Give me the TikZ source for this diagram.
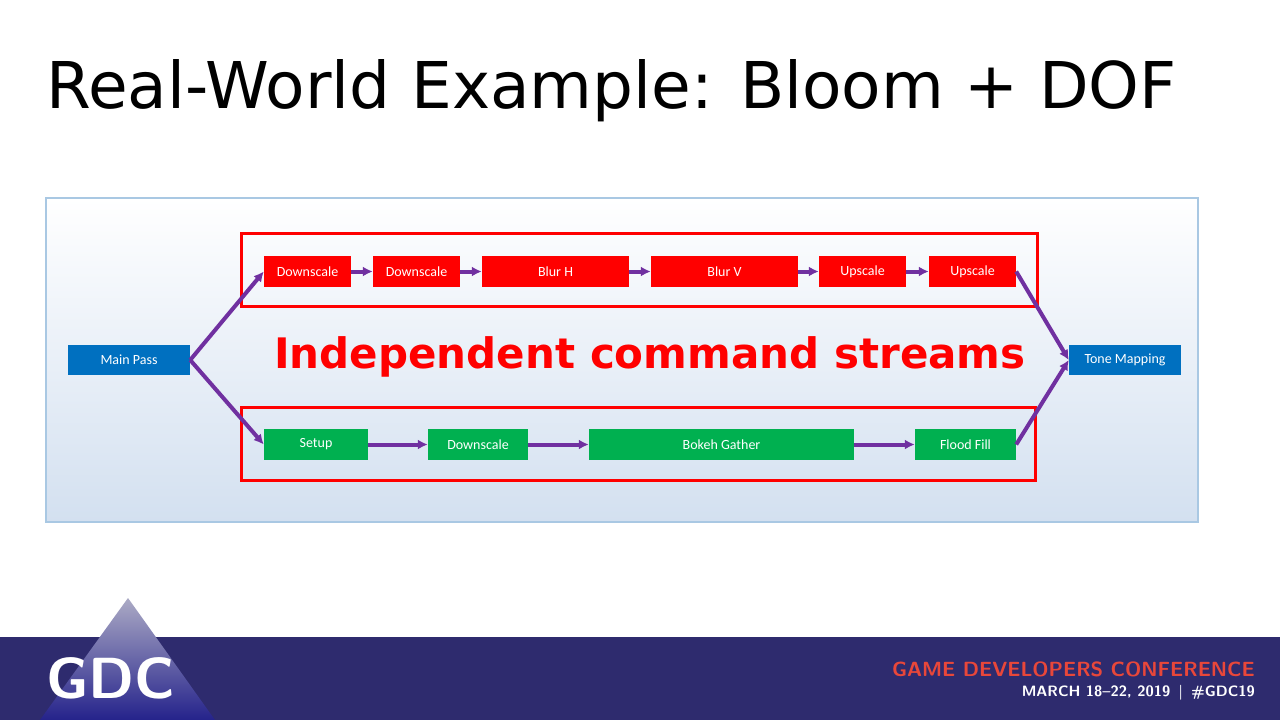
\documentclass[tikz,border=0pt]{standalone}
\usepackage{fontspec}
\setmainfont{Carlito}
\newfontfamily\vfont{DejaVu Sans}
\usetikzlibrary{arrows.meta}
\definecolor{rd}{HTML}{FF0000}
\definecolor{gr}{HTML}{00B050}
\definecolor{bl}{HTML}{0070C0}
\definecolor{pu}{HTML}{7030A0}
\definecolor{navy}{HTML}{2E2B6E}
\definecolor{panelb}{HTML}{D3E0F0}
\definecolor{panelbd}{HTML}{A9C8E3}
\definecolor{gorange}{HTML}{E8473A}
\begin{document}
\begin{tikzpicture}[x=1pt,y=-1pt,
  box/.style={draw=none,text=white,font=\fontsize{14}{16}\selectfont,inner sep=0pt},
  conn/.style={draw=pu,line width=4pt,-{Latex[length=10pt,width=10pt]}}]
\useasboundingbox (0,0) rectangle (1280,720);
\fill[white] (0,0) rectangle (1280,720);
\node[anchor=base west,inner sep=0pt,font=\vfont\fontsize{64.5}{68}\selectfont] (title) at (46,108) {Real-World Example: Bloom + DOF};
\shade[top color=white,bottom color=panelb] (46,198) rectangle (1198,522);
\draw[draw=panelbd,line width=1.5pt] (46,198) rectangle (1198,522);
\draw[rd,line width=3pt] (241,233) rectangle (1037,306);
\draw[rd,line width=3pt] (241,407) rectangle (1035,480);
\foreach \n/\a/\b/\t in {d1/264/351/Downscale,d2/373/460/Downscale,bh/482/629/Blur H,bv/651/798/Blur V,u1/819/906/Upscale,u2/929/1016/Upscale}{
  \node[box,fill=rd,minimum width={\b-\a},minimum height=31] (\n) at ({(\a+\b)/2},271.5) {\t};}
\foreach \n/\a/\b/\t in {su/264/368/Setup,gd/428/528/Downscale,bk/589/854/Bokeh Gather,ff/915/1016/Flood Fill}{
  \node[box,fill=gr,minimum width={\b-\a},minimum height=31] (\n) at ({(\a+\b)/2},444.5) {\t};}
\node[box,fill=bl,minimum width=122,minimum height=30] (mp) at (129,360) {Main Pass};
\node[box,fill=bl,minimum width=112,minimum height=30] (tm) at (1125,360) {Tone Mapping};
\node[text=rd,font=\vfont\bfseries\fontsize{42}{46}\selectfont,inner sep=0pt] (ics) at (650,357) {Independent command streams};
\draw[conn] (mp.east) -- (d1.west);
\draw[conn] (mp.east) -- (su.west);
\draw[conn] (d1) -- (d2);
\draw[conn] (d2) -- (bh);
\draw[conn] (bh) -- (bv);
\draw[conn] (bv) -- (u1);
\draw[conn] (u1) -- (u2);
\draw[conn] (su) -- (gd);
\draw[conn] (gd) -- (bk);
\draw[conn] (bk) -- (ff);
\draw[conn] (u2.east) -- (tm.west);
\draw[conn] (ff.east) -- (tm.west);
% footer
\fill[navy] (0,637) rectangle (1280,720);
\shade[top color=white!60!navy,bottom color=navy!80!blue] (128,598) -- (215,720) -- (40,720) -- cycle;
\node[text=white,font=\sffamily\bfseries\fontsize{58}{60}\selectfont,inner sep=0pt] (gdc) at (111,678) {GDC};
\node[anchor=east,text=gorange,font=\sffamily\bfseries\fontsize{20.5}{22}\selectfont,inner sep=0pt] (gdcn) at (1255,669) {GAME DEVELOPERS CONFERENCE};
\node[anchor=east,text=white,font=\sffamily\bfseries\fontsize{15}{17}\selectfont,inner sep=0pt] (gdcd) at (1255,693) {MARCH 18--22, 2019 \,|\, \#GDC19};
\end{tikzpicture}
\end{document}
